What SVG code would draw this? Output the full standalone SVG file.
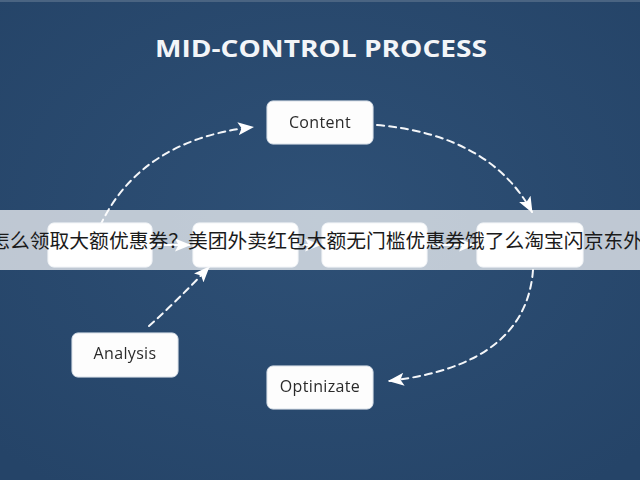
<svg xmlns="http://www.w3.org/2000/svg" width="640" height="480" viewBox="0 0 640 480">
  <defs>
    <radialGradient id="bg" cx="50%" cy="45%" r="70%">
      <stop offset="0" stop-color="#2e5076"/>
      <stop offset="1" stop-color="#254468"/>
    </radialGradient>
    <filter id="glow" x="-30%" y="-40%" width="160%" height="180%">
      <feGaussianBlur in="SourceAlpha" stdDeviation="4"/>
      <feFlood flood-color="#9fb6d0" flood-opacity="0.35"/>
      <feComposite operator="in" in2="SourceGraphic"/>
      <feMerge><feMergeNode/><feMergeNode in="SourceGraphic"/></feMerge>
    </filter>
    <marker id="arr" viewBox="0 0 16 13" refX="15" refY="6.5" markerWidth="16" markerHeight="13" markerUnits="userSpaceOnUse" orient="auto">
      <path d="M0,0 L16,6.5 L0,13 L3.5,6.5 Z" fill="#ffffff"/>
    </marker>
  </defs>
  <style>
    .box { fill: #fdfdfd; stroke: #d9e0e8; stroke-width: 1; }
    .lbl { font-family: "Open Sans", "Liberation Sans", sans-serif; font-size: 16px; fill: #2b2b2b; text-anchor: middle; letter-spacing: 0.35px; }
    .conn { fill: none; stroke: #f4f6f9; stroke-width: 2; stroke-dasharray: 7 5; stroke-linecap: round; }
    .solid { fill: none; stroke: #ffffff; stroke-width: 2; }
  </style>
  <rect width="640" height="480" fill="url(#bg)"/>
  <rect width="640" height="2" fill="#4a6482"/>

  <text x="321" y="57" text-anchor="middle" font-family="'Open Sans', 'Liberation Sans', sans-serif" font-weight="bold" font-size="24" fill="#f3f5f8" textLength="332" lengthAdjust="spacingAndGlyphs">MID-CONTROL PROCESS</text>

  <g id="connectors">
    <path class="conn" d="M100,226 Q140,140 253,127" marker-end="url(#arr)"/>
    <path class="conn" d="M377,125 Q490,135 532,212" marker-end="url(#arr)"/>
    <path class="conn" d="M533,270 Q526,365 389,381" marker-end="url(#arr)"/>
    <path class="conn" d="M149,326 Q178,300 209,267" marker-end="url(#arr)"/>
    <path class="solid" d="M152,245 L190,245" marker-end="url(#arr)"/>
    <path class="solid" d="M298,245 L320,245" marker-end="url(#arr)"/>
    <path class="solid" d="M427,245 L474,245" marker-end="url(#arr)"/>
  </g>

  <g id="content" filter="url(#glow)">
    <rect class="box" x="267" y="101" width="106" height="43" rx="6"/>
    <text class="lbl" x="320" y="128">Content</text>
  </g>
  <g id="analysis" filter="url(#glow)">
    <rect class="box" x="72" y="333" width="106" height="44" rx="6"/>
    <text class="lbl" x="125" y="359">Analysis</text>
  </g>
  <g id="optinizate" filter="url(#glow)">
    <rect class="box" x="267" y="366" width="106" height="43" rx="6"/>
    <text class="lbl" x="320" y="392">Optinizate</text>
  </g>
  <g id="step1" filter="url(#glow)">
    <rect class="box" x="48" y="223" width="104" height="44" rx="6"/>
  </g>
  <g id="step2" filter="url(#glow)">
    <rect class="box" x="193" y="223" width="105" height="44" rx="6"/>
  </g>
  <g id="step3" filter="url(#glow)">
    <rect class="box" x="322" y="223" width="105" height="44" rx="6"/>
  </g>
  <g id="step4" filter="url(#glow)">
    <rect class="box" x="477" y="223" width="106" height="44" rx="6"/>
  </g>

  <g id="banner">
    <rect x="0" y="210" width="640" height="60" fill="#ffffff" fill-opacity="0.7"/>
    <text x="-9.8" y="248" font-family="'Noto Sans CJK SC', sans-serif" font-size="19.8" fill="#1a1a1a">怎么领取大额优惠券？美团外卖红包大额无门槛优惠券饿了么淘宝闪京东外卖</text>
  </g>
</svg>
